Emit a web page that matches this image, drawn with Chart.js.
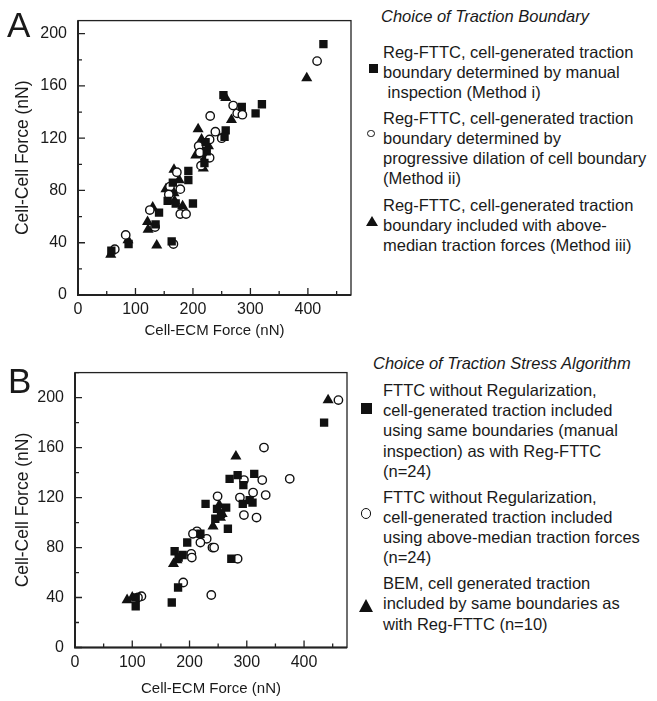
<!DOCTYPE html>
<html>
<head>
<meta charset="utf-8">
<script src="https://cdn.jsdelivr.net/npm/chart.js@4.4.1/dist/chart.umd.min.js"></script>
<style>
body { margin:0; background:#fff; width:657px; height:701px; position:relative; overflow:hidden;
  font-family:"Liberation Sans", Arial, sans-serif; color:#1a1a1a; }
canvas { position:absolute; left:0; }
.panel { position:absolute; font-size:35px; line-height:35px; }
.leg { position:absolute; font-size:16.5px; line-height:20px; white-space:nowrap; }
.ttl { font-style:italic; }
.mk { position:absolute; box-sizing:border-box; }
.sq { background:#111; }
.ci { border:1.3px solid #111; border-radius:50%; background:#fff; }
.tr { width:0; height:0; border-left-style:solid; border-right-style:solid; border-bottom-style:solid;
  border-left-color:transparent; border-right-color:transparent; border-bottom-color:#111; }
</style>
</head>
<body>
<canvas id="chartA" width="360" height="345" style="top:0"></canvas>
<canvas id="chartB" width="355" height="349" style="top:352px"></canvas>

<div class="panel" style="left:7px;top:7px">A</div>
<div class="panel" style="left:8px;top:363px">B</div>

<div class="leg ttl" style="left:381px;top:6px">Choice of Traction Boundary</div>
<div class="leg" style="left:383px;top:42px">Reg-FTTC, cell-generated traction<br>boundary determined by manual<br>&nbsp;inspection (Method i)</div>
<div class="leg" style="left:383px;top:108px">Reg-FTTC, cell-generated traction<br>boundary determined by<br>progressive dilation of cell boundary<br>(Method ii)</div>
<div class="leg" style="left:383px;top:195px">Reg-FTTC, cell-generated traction<br>boundary included with above-<br>median traction forces (Method iii)</div>
<div class="mk sq" style="left:369px;top:64px;width:8.7px;height:8.7px"></div>
<div class="mk ci" style="left:367px;top:129.5px;width:7.8px;height:7.8px"></div>
<div class="mk tr" style="left:366px;top:215.5px;border-left-width:6px;border-right-width:6px;border-bottom-width:10px"></div>

<div class="leg ttl" style="left:373px;top:353px">Choice of Traction Stress Algorithm</div>
<div class="leg" style="left:383px;top:380px;line-height:20.2px">FTTC without Regularization,<br>cell-generated traction included<br>using same boundaries (manual<br>inspection) as with Reg-FTTC<br>(n=24)</div>
<div class="leg" style="left:383px;top:487px;line-height:20px">FTTC without Regularization,<br>cell-generated traction included<br>using above-median traction forces<br>(n=24)</div>
<div class="leg" style="left:383px;top:573px;line-height:20.4px">BEM, cell generated traction<br>included by same boundaries as<br>with Reg-FTTC (n=10)</div>
<div class="mk sq" style="left:360.5px;top:403px;width:11px;height:10.5px"></div>
<div class="mk ci" style="left:360.7px;top:508px;width:10.7px;height:10.7px;border-width:1.8px"></div>
<div class="mk tr" style="left:359px;top:598.5px;border-left-width:7px;border-right-width:7px;border-bottom-width:13px"></div>

<script>
// panel A: choice of traction boundary (x = cell-ECM force, y = cell-cell force, nN)
var aMethodI = [[427,192],[253,153],[285,144],[320,146],[309,139],[257,126],[255,121],[222,117],[224,110],[220,101],
  [192,95],[192,88],[165,86],[170,70],[156,72],[200,70],[141,63],[135,54],[88,39],[163,41],[58,34]];
var aMethodII = [[416,179],[270,145],[277,139],[286,138],[230,137],[239,125],[250,120],[229,119],[210,114],[212,109],
  [229,105],[214,99],[172,94],[160,83],[178,81],[158,77],[125,65],[178,62],[188,62],[134,52],[83,46],[166,39],[64,35]];
var aMethodIII = [[398,166],[257,151],[267,134],[209,127],[215,119],[227,114],[205,107],[222,106],[218,97],[167,96],
  [176,88],[153,81],[167,78],[168,72],[182,68],[130,67],[121,56],[122,50],[87,42],[137,38],[57,31]];

// panel B: choice of traction stress algorithm
var bNoRegManual = [[435,180],[270,135],[284,138],[313,139],[294,130],[228,115],[264,112],[245,103],[255,107],[267,95],
  [293,115],[305,118],[310,116],[219,91],[196,84],[174,77],[188,74],[181,72],[273,71],[180,48],[169,36],[106,33],[106,40],[248,111]];
var bNoRegMedian = [[460,198],[330,160],[375,135],[295,134],[327,134],[311,124],[333,122],[288,120],[249,121],[295,106],
  [317,104],[213,93],[206,91],[230,87],[219,84],[240,80],[243,80],[203,75],[204,72],[284,71],[189,52],[238,42],[116,41],[110,40]];
var bBEM = [[442,198],[281,153],[252,114],[257,107],[241,97],[254,104],[172,67],[178,70],[91,38],[100,40]];

var xTickLabels = [0, 100, 200, 300, 400];
var yTickLabels = [0, 40, 80, 120, 160, 200];
var xStep = 50, yStep = 20, xMax = 475;

Chart.defaults.font.family = '"Liberation Sans", Arial, sans-serif';
Chart.defaults.color = '#1a1a1a';

function pts(arr) {
  return arr.map(function (p) { return {x: p[0], y: p[1]}; });
}

function squares(arr) {
  return {data: pts(arr), pointStyle: 'rect', pointRadius: 5.9, backgroundColor: '#111', borderWidth: 0};
}
function circles(arr) {
  return {data: pts(arr), pointStyle: 'circle', pointRadius: 4.2, backgroundColor: '#fff', borderColor: '#111', borderWidth: 1.4};
}
function triangles(arr) {
  return {data: pts(arr), pointStyle: 'triangle', pointRadius: 6.4, backgroundColor: '#111', borderWidth: 0};
}

function drawFrame(chart) {
  var ctx = chart.ctx, a = chart.chartArea, x = chart.scales.x, y = chart.scales.y;
  ctx.save();
  ctx.strokeStyle = '#222';
  ctx.lineWidth = 1.3;
  ctx.strokeRect(a.left, a.top, a.right - a.left, a.bottom - a.top);
  ctx.lineWidth = 2;
  ctx.beginPath();
  ctx.moveTo(a.left, a.top);
  ctx.lineTo(a.left, a.bottom);
  ctx.lineTo(a.right, a.bottom);
  ctx.stroke();
  ctx.lineWidth = 1.3;
  ctx.beginPath();
  x.ticks.forEach(function (t) {
    var px = x.getPixelForValue(t.value);
    var len = xTickLabels.indexOf(Math.round(t.value)) >= 0 ? 7 : 4;
    ctx.moveTo(px, a.bottom);
    ctx.lineTo(px, a.bottom - len);
  });
  y.ticks.forEach(function (t) {
    var py = y.getPixelForValue(t.value);
    var len = yTickLabels.indexOf(Math.round(t.value)) >= 0 ? 7 : 4;
    ctx.moveTo(a.left, py);
    ctx.lineTo(a.left + len, py);
  });
  ctx.stroke();
  ctx.restore();
}

// frame plus inward tick marks
var frameTicks = {
  id: 'frameTicks',
  afterDatasetsDraw: function (chart) { drawFrame(chart); }
};

function makeChart(id, datasets, yMax, yWidth, xHeight, pad, xTitlePad) {
  return new Chart(document.getElementById(id), {
    type: 'scatter',
    data: {datasets: datasets},
    plugins: [frameTicks],
    options: {
      responsive: false,
      animation: false,
      devicePixelRatio: 1,
      layout: {padding: pad},
      plugins: {legend: {display: false}, tooltip: {enabled: false}},
      scales: {
        x: {
          type: 'linear', min: 0, max: xMax,
          grid: {display: false, drawTicks: false}, border: {display: false},
          afterFit: function (s) { s.height = xHeight; },
          ticks: {
            stepSize: xStep, includeBounds: false, autoSkip: false, maxRotation: 0, padding: 5,
            font: {size: 16}, color: '#1a1a1a',
            callback: function (v) { return xTickLabels.indexOf(Math.round(v)) >= 0 ? String(Math.round(v)) : ''; }
          },
          title: {display: true, text: 'Cell-ECM Force (nN)', font: {size: 15}, color: '#1a1a1a',
            padding: {top: 0, bottom: xTitlePad}}
        },
        y: {
          type: 'linear', min: 0, max: yMax,
          grid: {display: false, drawTicks: false}, border: {display: false},
          afterFit: function (s) { s.width = yWidth; },
          ticks: {
            stepSize: yStep, includeBounds: false, autoSkip: false, padding: 11,
            font: {size: 16}, color: '#1a1a1a',
            callback: function (v) { return yTickLabels.indexOf(Math.round(v)) >= 0 ? String(Math.round(v)) : ''; }
          },
          title: {display: true, text: 'Cell-Cell Force (nN)', font: {size: 17.5}, color: '#1a1a1a',
            padding: {top: 13, bottom: 0}}
        }
      }
    }
  });
}

makeChart('chartA', [squares(aMethodI), circles(aMethodII), triangles(aMethodIII)],
  210, 78, 50, {top: 9, right: 9, left: 0, bottom: 0}, 5);
makeChart('chartB', [squares(bNoRegManual), circles(bNoRegMedian), triangles(bBEM)],
  220, 75, 53.5, {top: 10, right: 8, left: 0, bottom: 0}, 3);
</script>
</body>
</html>
